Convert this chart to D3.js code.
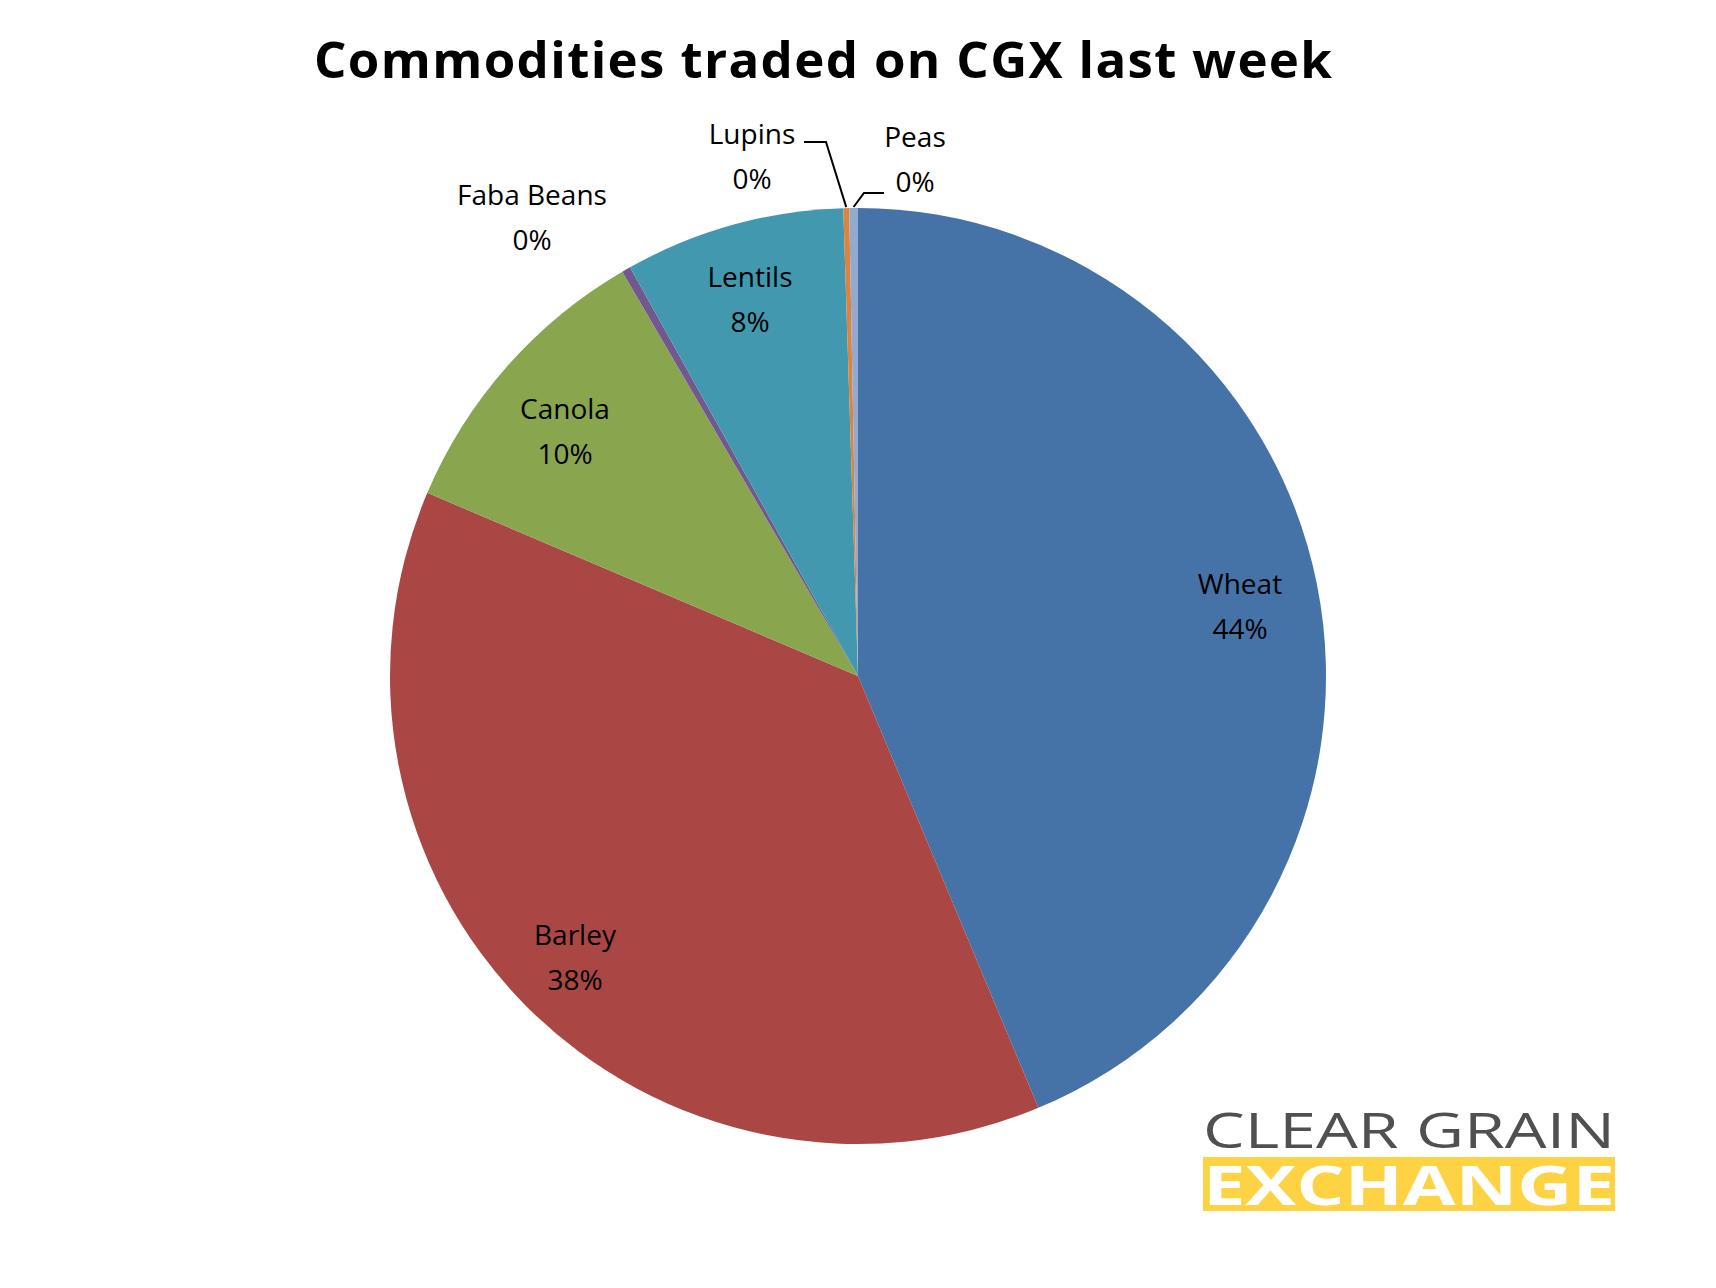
<!DOCTYPE html>
<html><head><meta charset="utf-8">
<script src="https://cdn.jsdelivr.net/npm/d3@7"></script>
<style>body{margin:0;background:#fff}svg{display:block}text{font-family:"Open Sans",sans-serif}</style>
</head><body>
<svg id="chart" width="1716" height="1288"></svg>
<script>
var names = ["Wheat", "Barley", "Canola", "Faba Beans", "Lentils", "Lupins", "Peas"];
var values = [43.7, 37.7, 10.2, 0.3, 7.6, 0.2, 0.3];
var pctLabels = ["44%", "38%", "10%", "0%", "8%", "0%", "0%"];
var colors = ["#4572A7", "#AA4643", "#89A54E", "#71588F", "#4198AF", "#DB843D", "#93A9CF"];

// label placement: [x, y] of the name line; leader for tiny slices
var labelPos = [[1240, 584], [575, 935], [565, 409], [532, 195], [750, 277], [752, 134], [915, 137]];

var svg = d3.select("#chart");
var cx = 858, cy = 676, r = 468;

svg.append("text").attr("x", 823).attr("y", 78).attr("text-anchor", "middle")
  .attr("font-size", 51).attr("font-weight", "bold").attr("textLength", 1018)
  .text("Commodities traded on CGX last week");

var data = names.map(function(n, i) { return {name: n, value: values[i], pct: pctLabels[i], color: colors[i], pos: labelPos[i]}; });
var pie = d3.pie().sort(null).value(function(d) { return d.value; });
var arc = d3.arc().innerRadius(0).outerRadius(r);
var g = svg.append("g").attr("transform", "translate(" + cx + "," + cy + ")");
var arcs = pie(data);
g.selectAll("path").data(arcs).enter().append("path")
  .attr("d", arc).attr("fill", function(d) { return d.data.color; });

// leader lines for Lupins and Peas
var outer = d3.arc().innerRadius(r).outerRadius(r);
[[5, 804, 826, 142], [6, 884, 864, 193]].forEach(function(l) {
  var c = outer.centroid(arcs[l[0]]);
  svg.append("polyline")
    .attr("points", [[l[1], l[3]], [l[2], l[3]], [cx + c[0], cy + c[1] - 1]].map(function(p) { return p.join(","); }).join(" "))
    .attr("fill", "none").attr("stroke", "#000").attr("stroke-width", 2);
});

var lab = svg.selectAll("g.lab").data(data).enter().append("g").attr("class", "lab");
lab.append("text").attr("x", function(d) { return d.pos[0]; }).attr("y", function(d) { return d.pos[1] + 10; })
  .attr("text-anchor", "middle").attr("font-size", 28).text(function(d) { return d.name; });
lab.append("text").attr("x", function(d) { return d.pos[0]; }).attr("y", function(d) { return d.pos[1] + 55; })
  .attr("text-anchor", "middle").attr("font-size", 28).text(function(d) { return d.pct; });

// logo
svg.append("text").attr("x", 1203).attr("y", 1148).attr("font-size", 50).attr("fill", "#505050")
  .attr("textLength", 412).attr("lengthAdjust", "spacingAndGlyphs").text("CLEAR GRAIN");
svg.append("rect").attr("x", 1203).attr("y", 1157).attr("width", 412).attr("height", 54).attr("fill", "#FDD344");
svg.append("text").attr("x", 1203).attr("y", 1205).attr("font-size", 54).attr("font-weight", "bold").attr("fill", "#fff")
  .attr("textLength", 412).attr("lengthAdjust", "spacingAndGlyphs").text("EXCHANGE");
</script>
</body></html>
